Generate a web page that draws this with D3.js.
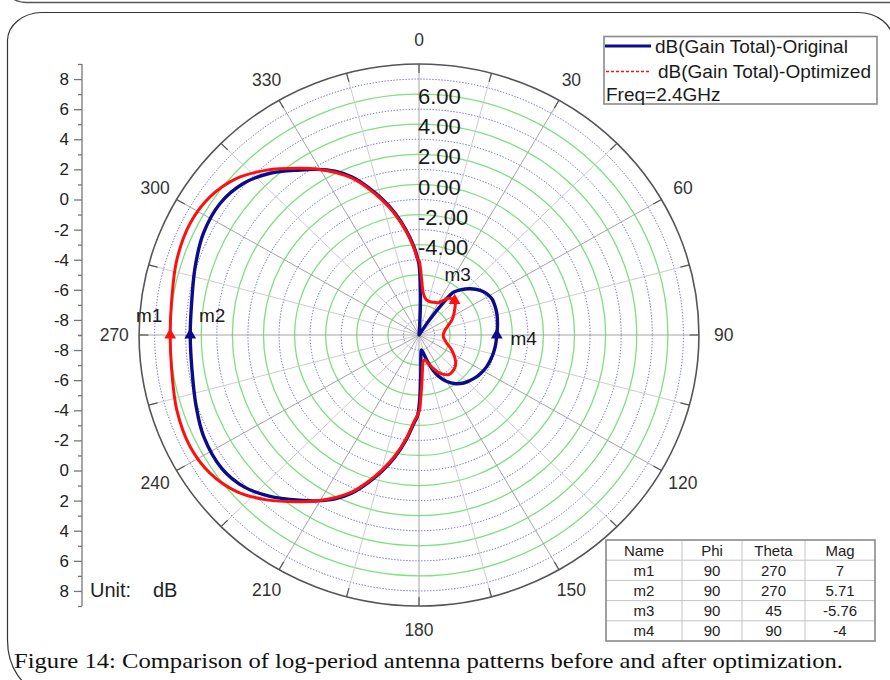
<!DOCTYPE html>
<html>
<head>
<meta charset="utf-8">
<script src="https://cdn.jsdelivr.net/npm/d3@7/dist/d3.min.js"></script>
<style>
  html, body { margin: 0; padding: 0; background: #fff; }
  svg { display: block; font-family: "Liberation Sans", Arial, sans-serif; }
</style>
</head>
<body>
<svg id="chart" width="890" height="680"></svg>
<script>
// ---------------- DATA ----------------
const angleLabels = [0, 30, 60, 90, 120, 150, 180, 210, 240, 270, 300, 330];
const ringLabels = [6, 4, 2, 0, -2, -4];
const leftAxisMajor = [-8, -6, -4, -2, 0, 2, 4, 6, 8];
const leftAxisMinor = [-9, -7, -5, -3, -1, 1, 3, 5, 7, 9];

// Original (blue): theta (deg) and gain (dB)
const origTheta = [0, 2, 4, 6, 15, 25, 31, 34, 36, 38, 42, 47, 53, 58, 63, 70, 76, 84, 90,
  97, 104, 110, 116, 122, 127, 133, 138, 144, 150, 155, 159, 163, 167, 171, 175, 177.5, 179.5,
  181.1, 183.1, 186.8, 190.8, 194.7, 198.5, 202.3, 206.4, 211, 215, 222, 228, 235, 244, 252, 261,
  270, 279, 287.5, 296, 304.4, 311.7, 318.3, 325.1, 329.1, 333.6, 337.7, 341.5, 345.3, 349.2,
  353.2, 356.9, 358.9];
const origGain = [-4.3, -6.3, -8.4, -9, -9, -9, -9, -7.8, -6.4, -5.4, -4.95, -4.5, -4.07, -3.85, -3.73, -3.76, -3.82, -3.93, -4.0,
  -4.03, -4.07, -4.12, -4.17, -4.27, -4.37, -4.55, -4.71, -5.0, -5.43, -5.95, -6.5, -7.2, -7.8, -8.0, -7.6, -6.4, -4.6,
  -3.6, -3.15, -1.98, -0.75, 0.34, 1.36, 2.34, 3.15, 3.85, 4.4, 5.4, 6.1, 6.47, 6.4, 6.08, 5.78,
  5.71, 5.79, 6.09, 6.42, 6.49, 6.13, 5.39, 4.36, 3.82, 3.15, 2.34, 1.36, 0.34, -0.75,
  -1.98, -3.15, -3.89];

// Optimized (red)
const optTheta = [0, 2.7, 5.7, 11, 17.7, 24, 30, 34, 37.7, 41, 45, 48, 51, 58, 65, 72, 79, 85, 90,
  97, 103, 107, 113, 119, 126, 132, 138, 144, 149, 154, 158, 163, 167, 171, 174, 176.5, 178.5,
  179.8, 183.1, 186.8, 190.8, 194.7, 198.5, 202.3, 206.4, 211, 214.6, 221.8, 228.4, 235.6, 243.3,
  252.3, 261.7, 270, 278.3, 287.7, 296.7, 304.4, 311.6, 318.2, 325.4, 329, 333.6, 337.7, 341.5,
  345.3, 349.2, 353.2, 356.9, 358.9];
const optGain = [-4.05, -5.35, -6.22, -6.6, -6.68, -6.62, -6.52, -6.25, -5.92, -5.8, -5.76, -5.85, -6.02, -6.35, -6.67, -7.05, -7.29, -7.4, -7.44,
  -7.4, -7.25, -7.14, -6.8, -6.48, -6.1, -5.87, -5.76, -5.75, -5.95, -6.26, -6.65, -7.05, -7.3, -7.25, -6.8, -5.9, -4.8,
  -3.95, -3.25, -2.08, -0.85, 0.24, 1.26, 2.24, 3.05, 3.87, 4.45, 5.69, 6.67, 7.27, 7.48,
  7.35, 7.07, 7.0, 7.07, 7.35, 7.48, 7.27, 6.67, 5.69, 4.45, 3.87, 3.05, 2.24, 1.26,
  0.24, -0.85, -2.08, -3.25, -3.95];

// Markers
const markerNames = ["m1", "m2", "m3", "m4"];
const markerPhi = [90, 90, 90, 90];
const markerTheta = [270, 270, 45, 90];
const markerMag = [7, 5.71, -5.76, -4];
const markerSeries = ["opt", "orig", "opt", "orig"];

const legendLabels = ["dB(Gain Total)-Original", "dB(Gain Total)-Optimized", "Freq=2.4GHz"];
const tableHeader = ["Name", "Phi", "Theta", "Mag"];
const captionText = "Figure 14: Comparison of log-period antenna patterns before and after optimization.";

// ---------------- LAYOUT / STYLE ----------------
const cx = 419, cy = 335, R = 271, sx = 1.033;
const blue = "#0c0c8a", red = "#ff1010";
const svg = d3.select("#chart");

const rScale = d3.scaleLinear().domain([-9, 9]).range([0, R]).clamp(true);
const rad = d => d * Math.PI / 180;
function pt(theta, g) {
  const r = rScale(g), a = rad(theta);
  return [cx + r * sx * Math.sin(a), cy - r * Math.cos(a)];
}
function ptR(theta, r) {
  const a = rad(theta);
  return [cx + r * sx * Math.sin(a), cy - r * Math.cos(a)];
}

// ---- frame ----
svg.append("path")
  .attr("d", "M -3,-30 A 30 32 0 0 0 27,2.5 H 900")
  .attr("fill", "none").attr("stroke", "#555").attr("stroke-width", 1.3);
svg.append("path")
  .attr("d", "M 42,690 A 35 50 0 0 1 7.5,640 V 40 A 35 28 0 0 1 42,12.5 H 858 A 35 28 0 0 1 893,40 V 690")
  .attr("fill", "none").attr("stroke", "#333").attr("stroke-width", 1.2);

// ---- grid rings ----
const ringVals = d3.range(-8, 9, 1);
const grid = svg.append("g");
grid.selectAll("ellipse.ring").data(ringVals).join("ellipse")
  .attr("cx", cx).attr("cy", cy)
  .attr("rx", d => rScale(d) * sx).attr("ry", d => rScale(d))
  .attr("fill", "none")
  .attr("stroke", d => (Math.abs(d) % 2 === 0) ? "#5c5cf0" : "#7ee07e")
  .attr("stroke-width", d => (Math.abs(d) % 2 === 0) ? 1 : 1.3)
  .attr("stroke-dasharray", d => (Math.abs(d) % 2 === 0) ? "1.3,1.7" : null);

// ---- spokes ----
const spokes = d3.range(0, 360, 15);
grid.selectAll("line.spoke").data(spokes).join("line")
  .attr("x1", cx).attr("y1", cy)
  .attr("x2", d => ptR(d, R)[0]).attr("y2", d => ptR(d, R)[1])
  .attr("stroke", d => d % 30 === 0 ? "#a4a4a4" : "#cccccc")
  .attr("stroke-width", 1);

// outer circle
grid.append("ellipse").attr("cx", cx).attr("cy", cy).attr("rx", R * sx).attr("ry", R)
  .attr("fill", "none").attr("stroke", "#555").attr("stroke-width", 1.6);
// outer ticks
grid.selectAll("line.tick").data(spokes).join("line")
  .attr("x1", d => ptR(d, R)[0]).attr("y1", d => ptR(d, R)[1])
  .attr("x2", d => ptR(d, R - 9)[0]).attr("y2", d => ptR(d, R - 9)[1])
  .attr("stroke", "#555").attr("stroke-width", 1.2);

// angle labels
svg.append("g").selectAll("text").data(angleLabels).join("text")
  .attr("x", d => ptR(d, R + 24)[0]).attr("y", d => ptR(d, R + 24)[1])
  .attr("text-anchor", "middle").attr("dominant-baseline", "central")
  .attr("font-size", 17.5).attr("fill", "#333")
  .text(d => d);

// ring labels
svg.append("g").selectAll("text").data(ringLabels).join("text")
  .attr("x", cx - 1).attr("y", d => cy - rScale(d) - 5)
  .attr("font-size", 22).attr("fill", "#1a1a1a")
  .text(d => d3.format(".2f")(d).replace("\u2212", "-"));

// ---- curves ----
const line = d3.line().x(d => d[0]).y(d => d[1]).curve(d3.curveCatmullRomClosed.alpha(0.5));
const origPts = origTheta.map((t, i) => pt(t, origGain[i]));
const optPts = optTheta.map((t, i) => pt(t, optGain[i]));
svg.append("path").attr("d", line(origPts)).attr("fill", "none")
  .attr("stroke", blue).attr("stroke-width", 3.4).attr("stroke-linejoin", "round");
svg.append("path").attr("d", line(optPts)).attr("fill", "none")
  .attr("stroke", red).attr("stroke-width", 3).attr("stroke-linejoin", "round");

// ---- markers ----
const labelOffsets = { m1: [-21, -20], m2: [22, -20], m3: [3, -26], m4: [27, 3] };
const tri = d3.symbol().type(d3.symbolTriangle).size(60);
markerNames.forEach((name, i) => {
  const p = pt(markerTheta[i], markerMag[i]);
  const col = markerSeries[i] === "opt" ? red : blue;
  svg.append("path").attr("d", tri()).attr("transform", `translate(${p[0]},${p[1]})`)
    .attr("fill", col);
  const o = labelOffsets[name];
  svg.append("text").attr("x", p[0] + o[0]).attr("y", p[1] + o[1])
    .attr("text-anchor", "middle").attr("dominant-baseline", "central")
    .attr("font-size", 19).attr("fill", "#1a1a1a").text(name);
});

// ---- left axis ----
const yTop = d3.scaleLinear().domain([-9, 9]).range([cy, cy - R]);
const yBot = d3.scaleLinear().domain([-9, 9]).range([cy, cy + R]);
const axX = 82;
const axG = svg.append("g").attr("transform", `translate(${axX},0)`);
axG.append("line").attr("x1", 0).attr("x2", 0).attr("y1", cy - R).attr("y2", cy + R)
  .attr("stroke", "#777").attr("stroke-width", 1.3);
[yTop, yBot].forEach(sc => {
  const major = axG.append("g").call(d3.axisLeft(sc).tickValues(leftAxisMajor)
    .tickSize(8).tickSizeOuter(0).tickPadding(5).tickFormat(d => String(d)));
  const minor = axG.append("g").call(d3.axisLeft(sc).tickValues(leftAxisMinor)
    .tickSize(4).tickSizeOuter(0).tickFormat(""));
  [major, minor].forEach(g => {
    g.select(".domain").remove();
    g.selectAll(".tick line").attr("stroke", "#777").attr("stroke-width", 1.3);
  });
  major.attr("font-family", null).attr("font-size", null);
  major.selectAll(".tick text").attr("font-size", 17).attr("fill", "#222");
});
svg.append("text").attr("x", 90).attr("y", cy + R - 16).attr("dominant-baseline", "central")
  .attr("font-size", 20).attr("fill", "#222").text("Unit:");
svg.append("text").attr("x", 153).attr("y", cy + R - 16).attr("dominant-baseline", "central")
  .attr("font-size", 20).attr("fill", "#222").text("dB");

// ---- legend ----
const lg = svg.append("g");
lg.append("rect").attr("x", 604).attr("y", 36.5).attr("width", 273).attr("height", 67.5)
  .attr("fill", "#fff").attr("stroke", "#8a8a8a").attr("stroke-width", 1.6);
lg.append("line").attr("x1", 605).attr("x2", 651).attr("y1", 46).attr("y2", 46)
  .attr("stroke", blue).attr("stroke-width", 3);
lg.append("line").attr("x1", 606).attr("x2", 650).attr("y1", 71.5).attr("y2", 71.5)
  .attr("stroke", red).attr("stroke-width", 1.4).attr("stroke-dasharray", "3,2");
lg.append("text").attr("x", 655).attr("y", 46).attr("dominant-baseline", "central")
  .attr("font-size", 19).attr("fill", "#1a1a1a").text(legendLabels[0]);
lg.append("text").attr("x", 658).attr("y", 71.5).attr("dominant-baseline", "central")
  .attr("font-size", 19).attr("fill", "#1a1a1a").text(legendLabels[1]);
lg.append("text").attr("x", 606).attr("y", 94).attr("dominant-baseline", "central")
  .attr("font-size", 19).attr("fill", "#1a1a1a").text(legendLabels[2]);

// ---- table ----
const colX = [606, 682, 742, 805, 875];
const tTop = 540, rowH = 20.2;
const rows = [tableHeader].concat(markerNames.map((n, i) =>
  [n, String(markerPhi[i]), String(markerTheta[i]), String(markerMag[i])]));
const tg = svg.append("g");
tg.append("rect").attr("x", colX[0]).attr("y", tTop).attr("width", colX[4] - colX[0])
  .attr("height", rowH * rows.length).attr("fill", "#fff");
for (let i = 1; i < rows.length; i++) {
  tg.append("line").attr("x1", colX[0]).attr("x2", colX[4])
    .attr("y1", tTop + i * rowH).attr("y2", tTop + i * rowH)
    .attr("stroke", "#c4c4c4").attr("stroke-width", 1);
}
for (let j = 1; j < 4; j++) {
  tg.append("line").attr("x1", colX[j]).attr("x2", colX[j])
    .attr("y1", tTop).attr("y2", tTop + rowH * rows.length)
    .attr("stroke", "#c4c4c4").attr("stroke-width", 1);
}
tg.append("rect").attr("x", colX[0]).attr("y", tTop).attr("width", colX[4] - colX[0])
  .attr("height", rowH * rows.length).attr("fill", "none")
  .attr("stroke", "#8a8a8a").attr("stroke-width", 1.6);
rows.forEach((r, i) => r.forEach((c, j) => {
  tg.append("text").attr("x", (colX[j] + colX[j + 1]) / 2).attr("y", tTop + rowH * (i + 0.5))
    .attr("text-anchor", "middle").attr("dominant-baseline", "central")
    .attr("font-size", 15).attr("fill", "#222").text(c);
}));

// ---- caption ----
svg.append("text").attr("x", 14).attr("y", 668)
  .style("font-family", "'Liberation Serif', 'Times New Roman', serif")
  .attr("font-size", 21).attr("fill", "#111")
  .attr("textLength", 829).attr("lengthAdjust", "spacingAndGlyphs")
  .text(captionText);
</script>
</body>
</html>
